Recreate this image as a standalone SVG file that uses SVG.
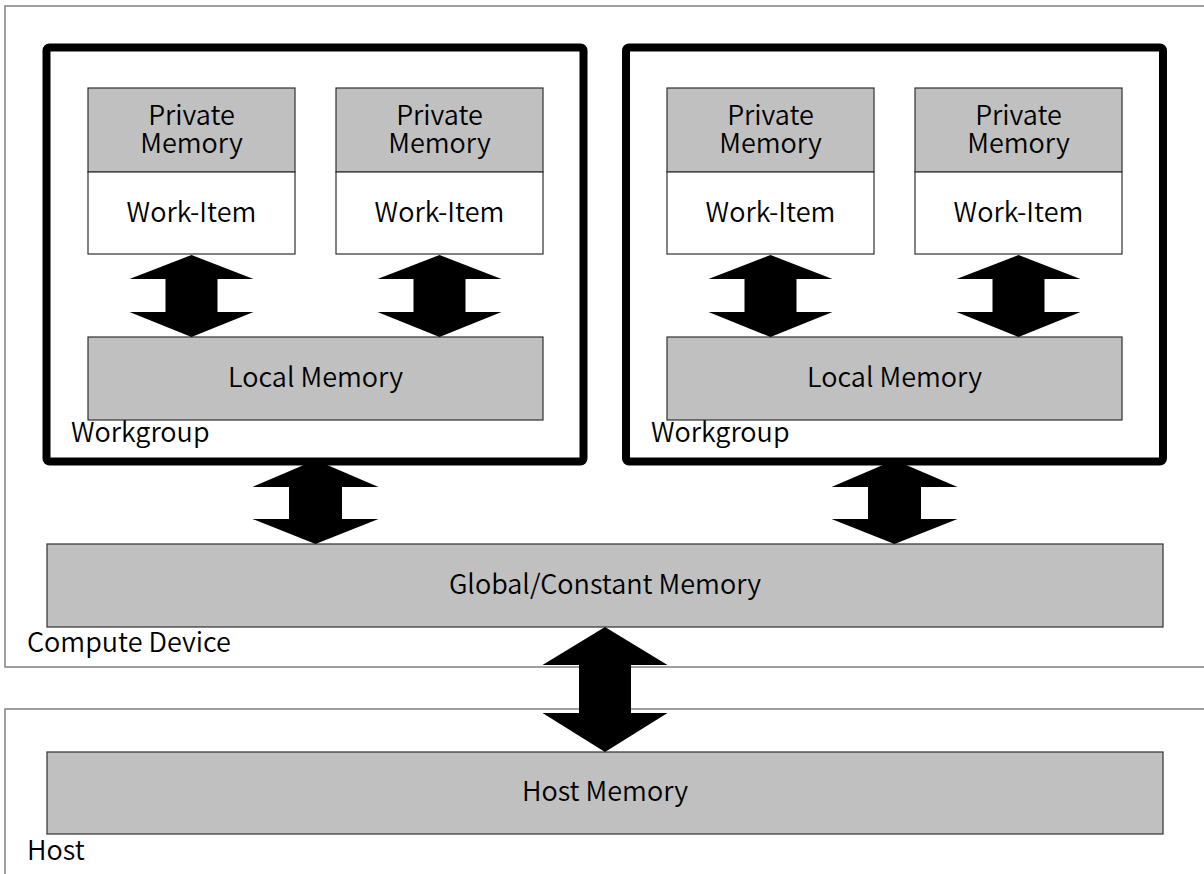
<svg xmlns="http://www.w3.org/2000/svg" width="1204" height="874" viewBox="0 0 1204 874">
  <defs>
    <style>
      .region { fill: #ffffff; stroke: #808080; stroke-width: 1.5; }
      .wg { fill: #ffffff; stroke: #000000; stroke-width: 8; }
      .mem { fill: #c0c0c0; stroke: #303030; stroke-width: 1.2; }
      .item { fill: #ffffff; stroke: #303030; stroke-width: 1.2; }
      .arrow { fill: #000000; stroke: none; }
      text { font-family: "Noto Sans CJK JP", "Noto Sans", sans-serif; font-size: 27px; font-weight: 350; fill: #000000; }
      .c { text-anchor: middle; }
    </style>
    <!-- double-headed block arrow used between work-items and local memory -->
    <path id="darrow-small" d="M0,0 L62,24 L26,24 L26,57 L62,57 L0,82 L-62,57 L-26,57 L-26,24 L-62,24 Z"/>
  </defs>

  <rect width="1204" height="874" fill="#ffffff"/>

  <!-- Compute device region -->
  <g id="compute-device">
    <rect class="region" x="5" y="6" width="1210" height="661"/>
    <text x="27" y="652">Compute Device</text>
  </g>

  <!-- Host region -->
  <g id="host">
    <rect class="region" x="5" y="709" width="1210" height="180"/>
    <text x="27" y="860">Host</text>
  </g>

  <!-- Workgroup 1 -->
  <g id="workgroup-1">
    <rect class="wg" x="46.5" y="47.5" width="537" height="414" rx="3"/>
    <text x="71" y="442">Workgroup</text>
  </g>
  <g id="wg1-item-1">
    <rect class="mem" x="88" y="88" width="207" height="84"/>
    <rect class="item" x="88" y="172" width="207" height="82"/>
    <text class="c" x="191.5" y="125">Private</text>
    <text class="c" x="191.5" y="153">Memory</text>
    <text class="c" x="191.5" y="222">Work-Item</text>
  </g>
  <g id="wg1-item-2">
    <rect class="mem" x="336" y="88" width="207" height="84"/>
    <rect class="item" x="336" y="172" width="207" height="82"/>
    <text class="c" x="439.5" y="125">Private</text>
    <text class="c" x="439.5" y="153">Memory</text>
    <text class="c" x="439.5" y="222">Work-Item</text>
  </g>
  <g id="wg1-local-memory">
    <rect class="mem" x="88" y="337" width="455" height="83"/>
    <text class="c" x="315.5" y="387">Local Memory</text>
  </g>

  <!-- Workgroup 2 -->
  <g id="workgroup-2">
    <rect class="wg" x="626" y="47.5" width="537" height="414" rx="3"/>
    <text x="651" y="442">Workgroup</text>
  </g>
  <g id="wg2-item-1">
    <rect class="mem" x="667" y="88" width="207" height="84"/>
    <rect class="item" x="667" y="172" width="207" height="82"/>
    <text class="c" x="770.5" y="125">Private</text>
    <text class="c" x="770.5" y="153">Memory</text>
    <text class="c" x="770.5" y="222">Work-Item</text>
  </g>
  <g id="wg2-item-2">
    <rect class="mem" x="915" y="88" width="207" height="84"/>
    <rect class="item" x="915" y="172" width="207" height="82"/>
    <text class="c" x="1018.5" y="125">Private</text>
    <text class="c" x="1018.5" y="153">Memory</text>
    <text class="c" x="1018.5" y="222">Work-Item</text>
  </g>
  <g id="wg2-local-memory">
    <rect class="mem" x="667" y="337" width="455" height="83"/>
    <text class="c" x="894.5" y="387">Local Memory</text>
  </g>

  <!-- Global / constant memory -->
  <g id="global-memory">
    <rect class="mem" x="47" y="544" width="1116" height="83"/>
    <text class="c" x="605" y="594">Global/Constant Memory</text>
  </g>

  <!-- Host memory -->
  <g id="host-memory">
    <rect class="mem" x="47" y="752" width="1116" height="82"/>
    <text class="c" x="605" y="801">Host Memory</text>
  </g>

  <!-- Connectors -->
  <g id="connectors" class="arrow">
    <use href="#darrow-small" x="191.5" y="255"/>
    <use href="#darrow-small" x="439.5" y="255"/>
    <use href="#darrow-small" x="770.5" y="255"/>
    <use href="#darrow-small" x="1018.5" y="255"/>
    <path d="M315.5,460 L378.5,487 L342,487 L342,519 L378.5,519 L315.5,544 L252.5,519 L289,519 L289,487 L252.5,487 Z"/>
    <path d="M894.5,460 L957.5,487 L921,487 L921,519 L957.5,519 L894.5,544 L831.5,519 L868,519 L868,487 L831.5,487 Z"/>
    <path d="M605,627 L667.5,665 L631,665 L631,713 L667.5,713 L605,752 L542.5,713 L579,713 L579,665 L542.5,665 Z"/>
  </g>
</svg>
